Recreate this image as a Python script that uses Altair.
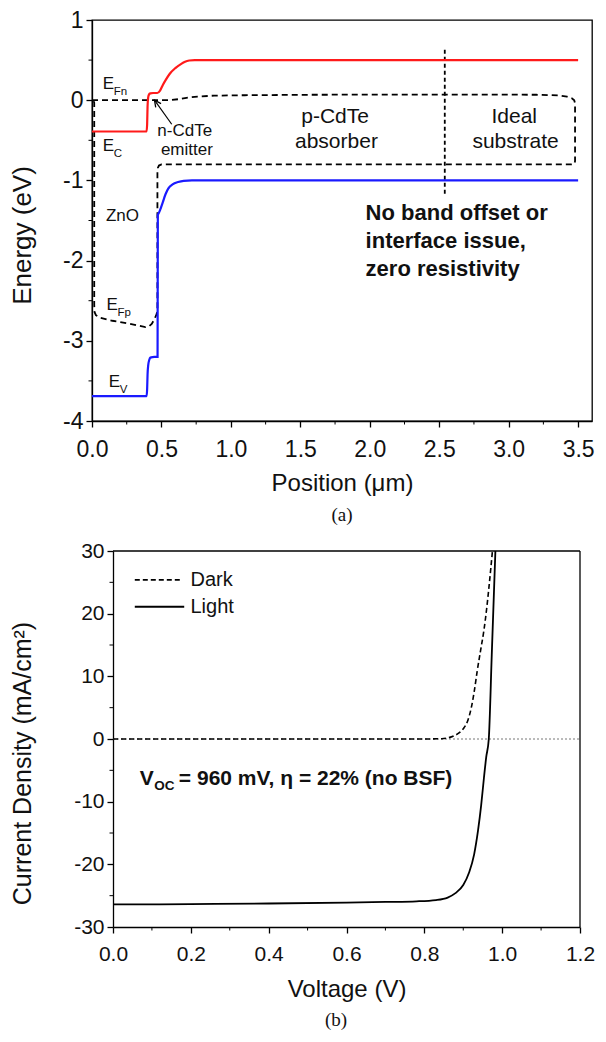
import altair as alt
import pandas as pd

# ---------------- Panel (a): band diagram ----------------
ec_x = [0.0, 0.393, 0.397, 0.400, 0.404, 0.41, 0.42, 0.44, 0.47, 0.49, 0.51, 0.53, 0.56, 0.60, 0.64, 0.67, 0.70, 0.74, 0.80, 3.50]
ec_y = [-0.39, -0.39, -0.30, -0.08, 0.03, 0.07, 0.085, 0.09, 0.09, 0.12, 0.19, 0.25, 0.33, 0.40, 0.45, 0.48, 0.495, 0.50, 0.50, 0.50]

ev_x = [0.0, 0.393, 0.397, 0.400, 0.405, 0.412, 0.42, 0.45, 0.472, 0.474, 0.48, 0.49, 0.51, 0.53, 0.55, 0.58, 0.62, 0.66, 0.72, 0.80, 3.50]
ev_y = [-3.69, -3.69, -3.60, -3.42, -3.30, -3.24, -3.21, -3.20, -3.20, -1.43, -1.41, -1.37, -1.27, -1.17, -1.10, -1.05, -1.02, -1.005, -1.0, -1.0, -1.0]

# quasi-Fermi levels (one closed dashed path: E_Fn -> substrate -> E_Fp -> ZnO)
ef_x = [0.0, 0.30, 0.50, 0.56, 0.62, 0.68, 0.76, 0.88, 1.10, 1.60, 2.50, 3.20, 3.36, 3.42, 3.455, 3.472, 3.478,
        3.478, 3.472, 3.45, 2.50, 1.00, 0.56, 0.50, 0.482, 0.474, 0.471,
        0.471, 0.462, 0.45, 0.43, 0.41, 0.385, 0.265, 0.147, 0.052, 0.028, 0.018, 0.016, 0.016, 0.008]
ef_y = [0.0, 0.0, 0.0, 0.0, 0.012, 0.03, 0.045, 0.057, 0.062, 0.068, 0.07, 0.068, 0.06, 0.045, 0.025, 0.0, -0.04,
        -0.76, -0.795, -0.80, -0.80, -0.80, -0.80, -0.802, -0.815, -0.845, -0.90,
        -2.64, -2.68, -2.73, -2.79, -2.82, -2.83, -2.785, -2.75, -2.71, -2.68, -2.64, -2.55, -0.03, 0.0]

sep_x = [2.54, 2.54]
sep_y = [0.63, -1.17]

arrow_x = [0.574, 0.450]
arrow_y = [-0.30, 0.0]

pos_ticks = [0.0, 0.5, 1.0, 1.5, 2.0, 2.5, 3.0, 3.5]
pos_minor = [0.25, 0.75, 1.25, 1.75, 2.25, 2.75, 3.25]
energy_ticks = [-4, -3, -2, -1, 0, 1]
energy_minor = [-3.5, -2.5, -1.5, -0.5, 0.5]

e_lab_x = [0.078, 0.078, 0.105, 0.12]
e_lab_y = [0.20, -0.57, -2.55, -3.51]
e_lab_sub = ["Fn", "C", "Fp", "V"]

zno_x = [0.10]
zno_y = [-1.44]
zno_t = ["ZnO"]

emit_x = [0.668, 0.683]
emit_y = [-0.38, -0.62]
emit_t = ["n-CdTe", "emitter"]

region_x = [1.75, 1.76, 3.04, 3.05]
region_y = [-0.205, -0.52, -0.205, -0.52]
region_t = ["p-CdTe", "absorber", "Ideal", "substrate"]

note_x = [1.97, 1.97, 1.97]
note_y = [-1.41, -1.76, -2.10]
note_t = ["No band offset or", "interface issue,", "zero resistivity"]

# ---------------- Panel (b): J-V curves ----------------
light_v = [0.0, 0.2, 0.4, 0.6, 0.7, 0.78, 0.83, 0.86, 0.88, 0.90, 0.915, 0.928, 0.938, 0.946, 0.953, 0.959, 0.9656, 0.9733, 0.9826]
light_j = [-26.4, -26.35, -26.25, -26.1, -26.0, -25.9, -25.7, -25.3, -24.6, -23.3, -21.3, -18.4, -14.6, -10.6, -6.3, -2.9, 0.0, 13.5, 30.0]

dark_v = [0.0, 0.4, 0.8, 0.845, 0.862, 0.876, 0.89, 0.902, 0.912, 0.92, 0.928, 0.936, 0.945, 0.953, 0.96, 0.966, 0.975]
dark_j = [0.0, 0.0, 0.0, 0.05, 0.2, 0.5, 1.0, 1.8, 3.0, 4.8, 7.5, 10.9, 14.3, 17.3, 20.7, 24.2, 30.0]

zero_v = [0.0, 1.2]
zero_j = [0.0, 0.0]

volt_ticks = [0.0, 0.2, 0.4, 0.6, 0.8, 1.0, 1.2]
volt_minor = [0.1, 0.3, 0.5, 0.7, 0.9, 1.1]
curr_ticks = [-30, -20, -10, 0, 10, 20, 30]
curr_minor = [-25, -15, -5, 5, 15, 25]

leg_names = ["Dark", "Light"]
leg_x0 = [0.056, 0.056]
leg_x1 = [0.175, 0.183]
leg_y = [25.4, 21.1]
leg_tx = [0.199, 0.199]

voc_x = [0.069]
voc_y = [-6.4]

SANS = "Liberation Sans"
SERIF = "Liberation Serif"
INK = "#111"
HYPHEN_LABEL = "replace(datum.label, '\u2212', '-')"

# ================= Panel (a) =================
W1, H1 = 500, 401
xs1 = alt.Scale(domain=[0, 3.6], nice=False, zero=False)
ys1 = alt.Scale(domain=[-4, 1], nice=False, zero=False)
x1 = alt.X("x:Q", scale=xs1, title="Position (μm)",
           axis=alt.Axis(values=pos_ticks, format=".1f", tickSize=6, labelPadding=11, labelFlush=False,
                         labelFontSize=23, titleFontSize=24, titlePadding=10))
y1 = alt.Y("y:Q", scale=ys1, title="Energy (eV)",
           axis=alt.Axis(values=energy_ticks, format="d", labelExpr=HYPHEN_LABEL, tickSize=6, labelPadding=3,
                         labelFontSize=23, titleFontSize=26, titlePadding=27, titleY=215))


def line_df(xs, ys):
    return pd.DataFrame({"x": xs, "y": ys, "i": list(range(len(xs)))})


ec = alt.Chart(line_df(ec_x, ec_y)).mark_line(color="#ff1a1a", strokeWidth=2.2, interpolate="monotone").encode(
    x=x1, y=y1, order="i:Q")
ev = alt.Chart(line_df(ev_x, ev_y)).mark_line(color="#1a1aff", strokeWidth=2.2, interpolate="monotone").encode(
    x=x1, y=y1, order="i:Q")
ef = alt.Chart(line_df(ef_x, ef_y)).mark_line(color="black", strokeWidth=1.8, strokeDash=[6, 4]).encode(
    x=x1, y=y1, order="i:Q")
sep = alt.Chart(line_df(sep_x, sep_y)).mark_line(color="black", strokeWidth=1.8, strokeDash=[4, 3]).encode(
    x=x1, y=y1, order="i:Q")
arr = alt.Chart(line_df(arrow_x, arrow_y)).mark_line(color="black", strokeWidth=1.2).encode(
    x=x1, y=y1, order="i:Q")
arr_head = alt.Chart(pd.DataFrame({"x": arrow_x[1:], "y": arrow_y[1:]})).mark_point(
    shape="M -0.55 1.1 L 0 0 L 0.55 1.1", filled=False, stroke="black", strokeWidth=1.3,
    size=144, angle=324, opacity=1).encode(x=x1, y=y1)

xminor1 = alt.Chart(pd.DataFrame({"x": pos_minor})).mark_rule(color="black", strokeWidth=1).encode(
    x=x1, y=alt.value(H1), y2=alt.value(H1 + 3.5))
yminor1 = alt.Chart(pd.DataFrame({"y": energy_minor})).mark_rule(color="black", strokeWidth=1).encode(
    y=y1, x=alt.value(0), x2=alt.value(-3.5))

e_main = alt.Chart(pd.DataFrame({"x": e_lab_x, "y": e_lab_y, "t": ["E"] * 4})).mark_text(
    align="left", baseline="middle", font=SANS, fontSize=17, color=INK).encode(x=x1, y=y1, text="t:N")
e_sub = alt.Chart(pd.DataFrame({"x": e_lab_x, "y": e_lab_y, "t": e_lab_sub})).mark_text(
    align="left", baseline="middle", font=SANS, fontSize=11.5, color=INK, dx=11, dy=8).encode(
    x=x1, y=y1, text="t:N")
zno = alt.Chart(pd.DataFrame({"x": zno_x, "y": zno_y, "t": zno_t})).mark_text(
    align="left", baseline="middle", font=SANS, fontSize=17, color=INK).encode(x=x1, y=y1, text="t:N")
emit = alt.Chart(pd.DataFrame({"x": emit_x, "y": emit_y, "t": emit_t})).mark_text(
    align="center", baseline="middle", font=SANS, fontSize=17, color=INK).encode(x=x1, y=y1, text="t:N")
region = alt.Chart(pd.DataFrame({"x": region_x, "y": region_y, "t": region_t})).mark_text(
    align="center", baseline="middle", font=SANS, fontSize=21, color=INK).encode(x=x1, y=y1, text="t:N")
note = alt.Chart(pd.DataFrame({"x": note_x, "y": note_y, "t": note_t})).mark_text(
    align="left", baseline="middle", font=SANS, fontSize=22, fontWeight="bold", color=INK).encode(
    x=x1, y=y1, text="t:N")

top = alt.layer(ef, sep, ec, ev, arr, arr_head, xminor1, yminor1, e_main, e_sub, zno, emit, region, note).properties(
    width=W1, height=H1,
    title=alt.Title("(a)", orient="bottom", font=SERIF, fontSize=19, fontWeight="normal",
                    offset=11, frame="group", anchor="middle", color=INK))

# ================= Panel (b) =================
SHIFT = 21                      # panel (b) frame starts a little to the right of panel (a)
W2, H2 = 467 + SHIFT, 376
xs2 = alt.Scale(domain=[0, 1.2], nice=False, zero=False, range=[SHIFT, W2])
ys2 = alt.Scale(domain=[-30, 30], nice=False, zero=False)
x2 = alt.X("x:Q", scale=xs2, title="Voltage (V)",
           axis=alt.Axis(values=volt_ticks, format=".1f", tickSize=6, labelPadding=10.5, labelFlush=False,
                         labelFontSize=21, titleFontSize=24, titlePadding=12.5))
y2 = alt.Y("y:Q", scale=ys2, title="Current Density (mA/cm²)",
           axis=alt.Axis(values=curr_ticks, format="d", labelExpr=HYPHEN_LABEL, tickSize=6, labelPadding=3,
                         offset=-SHIFT, labelFontSize=21, titleFontSize=25, titlePadding=38, titleY=212))

zero = alt.Chart(line_df(zero_v, zero_j)).mark_line(color="#777", strokeWidth=1, strokeDash=[2, 2]).encode(
    x=x2, y=y2, order="i:Q")
dark = alt.Chart(line_df(dark_v, dark_j)).mark_line(color="black", strokeWidth=1.6, strokeDash=[5, 3],
                                                   interpolate="monotone").encode(x=x2, y=y2, order="i:Q")
light = alt.Chart(line_df(light_v, light_j)).mark_line(color="black", strokeWidth=1.8,
                                                     interpolate="monotone").encode(x=x2, y=y2, order="i:Q")

# frame: top and right borders through the scales
frame_df = pd.DataFrame({"x": [volt_ticks[0]], "x2": [volt_ticks[-1]],
                         "y": [curr_ticks[-1]], "y0": [curr_ticks[0]]})
frame_top = alt.Chart(frame_df).mark_rule(color="black", strokeWidth=1.3).encode(
    x=x2, x2="x2:Q", y=y2)
frame_right = alt.Chart(frame_df).mark_rule(color="black", strokeWidth=1.3).encode(
    x=alt.X("x2:Q", scale=xs2), y=y2, y2="y0:Q")

leg_df = pd.DataFrame({"x": leg_x0, "x2": leg_x1, "y": leg_y, "tx": leg_tx, "t": leg_names})
leg_dark = alt.Chart(leg_df.iloc[[0]]).mark_rule(color="black", strokeWidth=1.6, strokeDash=[5, 3]).encode(
    x=x2, x2="x2:Q", y=y2)
leg_light = alt.Chart(leg_df.iloc[[1]]).mark_rule(color="black", strokeWidth=1.8).encode(
    x=x2, x2="x2:Q", y=y2)
leg_text = alt.Chart(leg_df).mark_text(align="left", baseline="middle", font=SANS, fontSize=20,
                                       color=INK).encode(x=alt.X("tx:Q", scale=xs2), y=y2, text="t:N")

voc_df = pd.DataFrame({"x": voc_x, "y": voc_y})
voc_v = alt.Chart(voc_df).mark_text(align="left", baseline="middle", font=SANS, fontSize=21,
                                   fontWeight="bold", color=INK, text="V").encode(x=x2, y=y2)
voc_sub = alt.Chart(voc_df).mark_text(align="left", baseline="middle", font=SANS, fontSize=13.5,
                                     fontWeight="bold", color=INK, text="OC", dx=14.5, dy=7).encode(x=x2, y=y2)
voc_rest = alt.Chart(voc_df).mark_text(align="left", baseline="middle", font=SANS, fontSize=21,
                                      fontWeight="bold", color=INK,
                                      text="= 960 mV, η = 22% (no BSF)", dx=39).encode(x=x2, y=y2)

xminor2 = alt.Chart(pd.DataFrame({"x": volt_minor})).mark_rule(color="black", strokeWidth=1).encode(
    x=x2, y=alt.value(H2), y2=alt.value(H2 + 3.5))
yminor2 = alt.Chart(pd.DataFrame({"y": curr_minor})).mark_rule(color="black", strokeWidth=1).encode(
    y=y2, x=alt.value(SHIFT), x2=alt.value(SHIFT - 3.5))

bottom = alt.layer(zero, dark, light, frame_top, frame_right, leg_dark, leg_light, leg_text,
                   voc_v, voc_sub, voc_rest, xminor2, yminor2).properties(
    width=W2, height=H2,
    view=alt.ViewBackground(stroke="transparent"),
    title=alt.Title("(b)", orient="bottom", font=SERIF, fontSize=19, fontWeight="normal",
                    offset=10, frame="group", anchor="middle", color=INK))

chart = alt.vconcat(top, bottom, spacing=130, bounds="flush").properties(
    padding={"left": 0, "top": 0, "right": 0, "bottom": 0}
).configure(font=SANS).configure_view(stroke="black", strokeWidth=1.3).configure_axis(
    grid=False, domainColor="black", domainWidth=1.3, tickColor="black", tickWidth=1.3,
    labelColor=INK, titleColor=INK, labelFont=SANS, titleFont=SANS, titleFontWeight="normal"
)

chart.save("out.html", embed_options={"renderer": "svg", "actions": False})
